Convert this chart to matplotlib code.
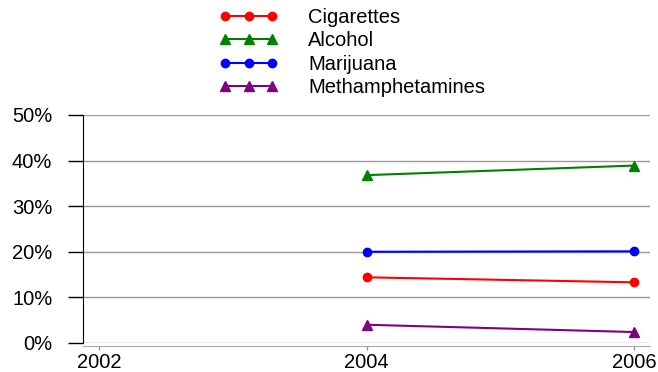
import matplotlib
matplotlib.use("Agg")
import matplotlib.pyplot as plt
from matplotlib.ticker import FuncFormatter

plt.rcParams["font.family"] = ["Liberation Sans", "DejaVu Sans"]

years = [2004, 2006]
cigarettes = [14.4, 13.3]
alcohol = [36.8, 38.9]
marijuana = [20.0, 20.1]
meth = [4.0, 2.4]

series = [
    ("Cigarettes", cigarettes, "red", "o", 6),
    ("Alcohol", alcohol, "green", "^", 7),
    ("Marijuana", marijuana, "blue", "o", 6),
    ("Methamphetamines", meth, "purple", "^", 7),
]

FS = 14.5

fig = plt.figure(figsize=(6.58, 3.72), dpi=100)
ax = fig.add_axes([0.126, 0.078, 0.862, 0.613])

for name, vals, color, marker, ms in series:
    ax.plot(years, vals, color=color, marker=marker, markersize=ms, linewidth=1.5, label=name)

ax.set_ylim(0, 50)
ax.set_yticks([0, 10, 20, 30, 40, 50])
ax.yaxis.set_major_formatter(FuncFormatter(lambda v, _: f"{v:.0f}%"))
ax.set_xlim(2001.88, 2006.12)
ax.set_xticks([2002, 2004, 2006])
ax.grid(axis="y", color="#999999", linewidth=1)
ax.set_axisbelow(True)

for side in ["top", "right"]:
    ax.spines[side].set_visible(False)
ax.spines["left"].set_color("black")
ax.spines["bottom"].set_color("#aaaaaa")
ax.spines["bottom"].set_position(("outward", 2.5))
ax.tick_params(axis="y", length=11, width=1, labelsize=FS, pad=11)
ax.tick_params(axis="x", length=3, width=1, color="#999999", labelsize=FS,
               labelcolor="black", pad=1.5)

ax.legend(loc="upper left", bbox_to_anchor=(219 / 658, 0.978), bbox_transform=fig.transFigure,
          frameon=False, numpoints=3, handlelength=2.93, fontsize=FS,
          labelspacing=0.21, handletextpad=1.49, borderaxespad=0, borderpad=0)

fig.savefig("out.png", dpi=100)
